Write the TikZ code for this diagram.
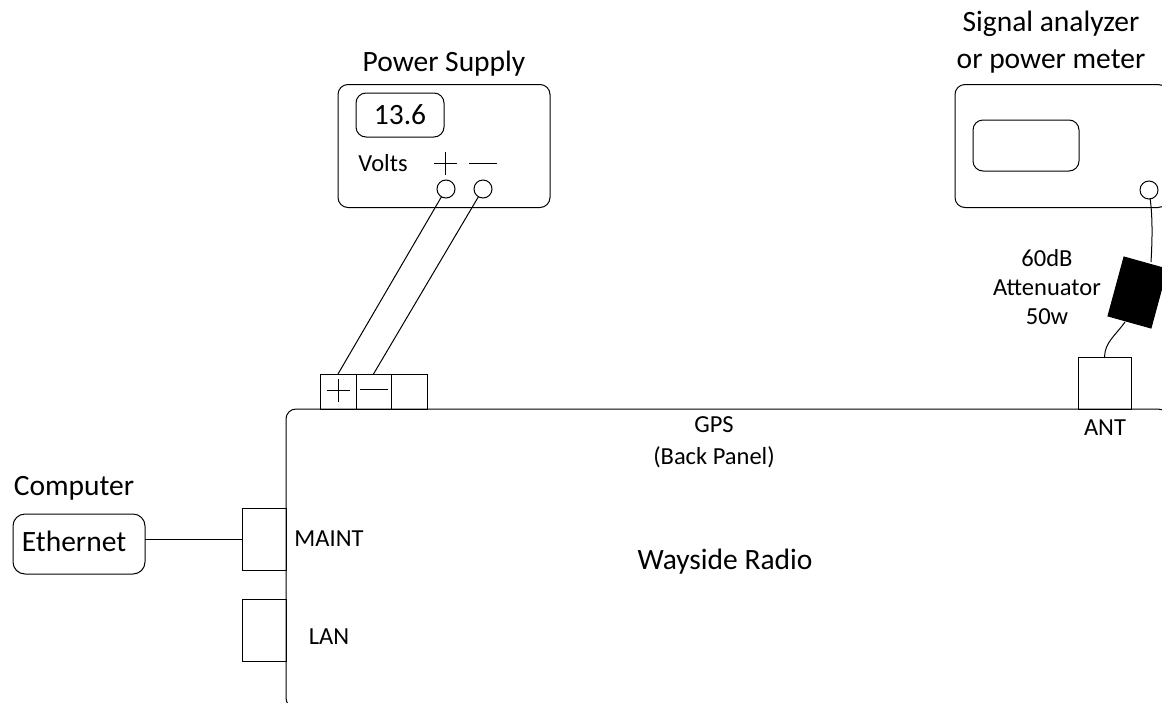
\documentclass[tikz,border=0pt]{standalone}
\usepackage{fontspec}
\setmainfont{Carlito}
\begin{document}
\begin{tikzpicture}[x=1pt,y=-1pt,line width=1pt]
  \tikzset{
    panel/.style={draw,rounded corners=#1},
    box/.style={draw,rounded corners=#1,inner sep=0pt,outer sep=0pt},
    port/.style={draw,rectangle,inner sep=0pt,outer sep=0pt},
    jack/.style={draw,circle,minimum size=18pt,inner sep=0pt,outer sep=0pt},
    big label/.style={font=\fontsize{29.5}{37}\selectfont,align=center},
    small label/.style={font=\fontsize{24.5}{29}\selectfont,align=center}
  }
  \useasboundingbox (0,0) rectangle (1162,702);
  \clip (0,0) rectangle (1162,702);

  % wayside radio panel
  \draw [panel=10pt] (286,409) rectangle (1168,708);
  \node [small label,font=\fontsize{24.5}{32}\selectfont] (gps) at (714,442) {GPS\\(Back Panel)};
  \node [big label] (radio) at (725,562) {Wayside Radio};

  % power supply
  \node [box=10pt,minimum width=212pt,minimum height=123pt] (supply) at (444,146) {};
  \node [box=10pt,minimum width=88pt,minimum height=44pt,big label] (meter) at (400,115) {13.6};
  \node [big label] (supplyname) at (444,64) {Power Supply};
  \node [small label] (volts) at (383,163) {Volts};
  \node [jack] (plusjack) at (446,189) {};
  \node [jack] (minusjack) at (483,189) {};
  \draw (434,163) -- (457,163);
  \draw (445,152) -- (445,175);
  \draw (469,163) -- (497,163);

  % terminal block
  \node [port,minimum width=36pt,minimum height=35pt] (plusterm) at (338,391.5) {};
  \node [port,minimum width=35pt,minimum height=35pt] (minusterm) at (373.5,391.5) {};
  \node [port,minimum width=36pt,minimum height=35pt] (spareterm) at (409,391.5) {};
  \draw (327,390) -- (350,390);
  \draw (338,379) -- (338,402);
  \draw (360,389) -- (388,389);
  \draw (plusjack) -- (plusterm.north);
  \draw (minusjack) -- (minusterm.north);

  % signal analyzer
  \node [box=10pt,minimum width=213pt,minimum height=123pt] (analyzer) at (1061.5,146) {};
  \node [box=10pt,minimum width=106pt,minimum height=51pt] (screen) at (1026,145.5) {};
  \node [big label] (analyzername) at (1051,42) {Signal analyzer\\or power meter};
  \node [jack] (rfjack) at (1149,190) {};

  % attenuator
  \node [small label] (attname) at (1047,287) {60dB\\Attenuator\\50w};
  \draw [fill=black] (1124,257) -- (1167,269) -- (1151,328) -- (1108,316) -- cycle;
  \coordinate (atttop) at (1151,262);
  \coordinate (attbottom) at (1125,322);
  \node [port,minimum width=53pt,minimum height=52pt] (ant) at (1104.5,383) {};
  \node [small label] (antname) at (1105,428) {ANT};
  \draw (rfjack) .. controls (1153,220) and (1152,245) .. (atttop);
  \draw (attbottom) .. controls (1115,336) and (1105,342) .. (ant.north);

  % computer
  \node [big label] (computer) at (74,488) {Computer};
  \node [box=12pt,minimum width=132pt,minimum height=60pt] (ethernet) at (79,544) {};
  \node [big label] (ethernetname) at (74,541) {Ethernet};

  % ports on the left
  \node [port,minimum width=44pt,minimum height=62pt] (maint) at (264,539) {};
  \node [port,minimum width=44pt,minimum height=62pt] (lan) at (264,630) {};
  \node [small label] (maintname) at (329,539) {MAINT};
  \node [small label] (lanname) at (329,637) {LAN};
  \draw (ethernet.east |- maint.west) -- (maint.west);
\end{tikzpicture}
\end{document}
